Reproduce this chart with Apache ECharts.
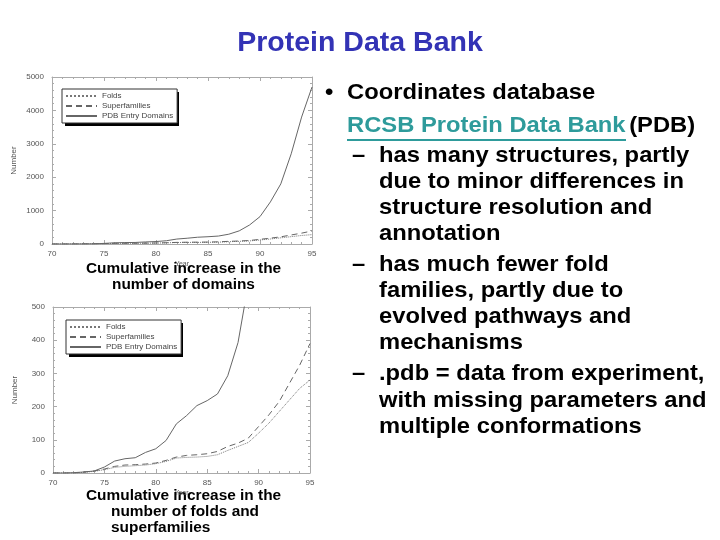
<!DOCTYPE html>
<html>
<head>
<meta charset="utf-8">
<script src="https://cdn.jsdelivr.net/npm/echarts@6/dist/echarts.min.js"></script>
<style>html,body{margin:0;padding:0;background:#fff}#c{width:720px;height:540px}</style>
</head>
<body>
<div id="c"></div>
<script>
var years = [70,71,72,73,74,75,76,77,78,79,80,81,82,83,84,85,86,87,88,89,90,91,92,93,94,95];
var folds = [0,0,0,2,5,10,17,20,22,24,28,35,45,47,48,50,55,68,80,92,120,150,185,220,255,280];
var superfamilies = [0,0,0,3,6,12,20,24,25,27,30,38,48,53,55,58,65,80,90,105,140,175,215,270,325,390];
var domains = [0,0,1,3,6,18,36,43,46,62,73,98,148,173,203,218,238,293,393,570,820,1260,1800,2700,3800,4700];
var seriesNames = ['Folds','Superfamilies','PDB Entry Domains'];
var topYTicks = {min:0, max:5000, interval:1000};
var botYTicks = {min:0, max:500, interval:100};
var xTicks = {min:70, max:95, interval:5};

function pairs(v){ return years.map(function(y,i){ return [y, v[i]]; }); }

var axisGrey = '#aaa';
function xAx(grid, pos, show){
  return {type:'value', gridIndex:grid, position:pos, min:xTicks.min, max:xTicks.max, interval:xTicks.interval,
    axisLine:{show:true, onZero:false, lineStyle:{color:axisGrey, width:1}},
    axisTick:{show:true, inside:true, length:4, lineStyle:{color:axisGrey}},
    minorTick:{show:true, splitNumber:5, length:2, lineStyle:{color:axisGrey}},
    splitLine:{show:false},
    axisLabel:{show:show, margin:6, color:'#555', fontSize:8, fontFamily:'Arial', formatter:function(v){return String(v);}},
    name: show ? 'Year' : '', nameLocation:'middle', nameGap:17,
    nameTextStyle:{color:'#555', fontSize:7, fontFamily:'Arial'}};
}
function yAx(grid, pos, show, t){
  return {type:'value', gridIndex:grid, position:pos, min:t.min, max:t.max, interval:t.interval,
    axisLine:{show:true, onZero:false, lineStyle:{color:axisGrey, width:1}},
    axisTick:{show:true, inside:true, length:4, lineStyle:{color:axisGrey}},
    minorTick:{show:true, splitNumber:5, length:2, lineStyle:{color:axisGrey}},
    splitLine:{show:false},
    axisLabel:{show:show, margin:8, color:'#555', fontSize:8, fontFamily:'Arial', formatter:function(v){return String(v);}},
    name: show ? 'Number' : '', nameLocation:'middle', nameGap:34, nameRotate:90,
    nameTextStyle:{color:'#555', fontSize:8, fontFamily:'Arial'}};
}
var styles = [
  {color:'#777', width:1, type:'dotted'},
  {color:'#666', width:1, type:[6,4]},
  {color:'#666', width:1, type:'solid'}
];
var seriesData = [folds, superfamilies, domains];
var series = [];
[0,1].forEach(function(g){
  seriesNames.forEach(function(n,i){
    series.push({type:'line', name:n, xAxisIndex:g*2, yAxisIndex:g*2, data:pairs(seriesData[i]),
      showSymbol:false, symbol:'none', clip:true, silent:true, animation:false,
      lineStyle:styles[i], itemStyle:{color:styles[i].color}});
  });
});
function leg(left, top){
  return {left:left, top:top, orient:'vertical', data:seriesNames, itemWidth:31, itemHeight:6, itemGap:2,
    padding:[3,4,3,3], backgroundColor:'#fff', borderColor:'#333', borderWidth:1,
    itemStyle:{opacity:0},
    textStyle:{color:'#444', fontSize:8, fontFamily:'Arial'}, selectedMode:false, z:5};
}
var FS = 22, SX = 1.08;
function line(x, y, txt){
  return {type:'text', x:x, y:y-FS*0.58, scaleX:SX, style:{text:txt, fontSize:FS, fontWeight:'bold', fontFamily:'Arial', fill:'#000'}};
}
var bullets = [
  [325, 95, '•'], [347, 95, 'Coordinates database'],
  [352, 158, '–'], [379, 158, 'has many structures, partly'],
  [379, 184, 'due to minor differences in'],
  [379, 210, 'structure resolution and'],
  [379, 236, 'annotation'],
  [352, 267, '–'], [379, 267, 'has much fewer fold'],
  [379, 293, 'families, partly due to'],
  [379, 319, 'evolved pathways and'],
  [379, 345, 'mechanisms'],
  [352, 376, '–'], [379, 376, '.pdb = data from experiment,'],
  [379, 403, 'with missing parameters and'],
  [379, 429, 'multiple conformations']
];
function cap(x, y, txt){
  return {type:'text', x:x, y:y-7.5, scaleX:1.1, style:{text:txt, fontSize:14, fontWeight:'bold', fontFamily:'Arial', fill:'#000'}};
}
var graphics = [
  {type:'text', left:'center', top:29, style:{text:'Protein Data Bank', fontSize:28.5, fontWeight:'bold', fontFamily:'Arial', fill:'#3333B5'}},
  {type:'text', x:347, y:128-FS*0.58, scaleX:SX, style:{text:'{a|RCSB Protein Data Bank} {b|(PDB)}', rich:{
     a:{fontSize:FS, fontWeight:'bold', fontFamily:'Arial', fill:'#2E9B9B', color:'#2E9B9B'},
     b:{fontSize:FS, fontWeight:'bold', fontFamily:'Arial', fill:'#000', color:'#000'}}}},
  {type:'rect', x:347, y:139, shape:{width:279, height:2}, style:{fill:'#2E9B9B'}},
  {type:'rect', x:65, y:92, shape:{width:114, height:34}, style:{fill:'#000'}, z:1},
  {type:'rect', x:69, y:323, shape:{width:114, height:34}, style:{fill:'#000'}, z:1},
  cap(86, 270, 'Cumulative increase in the'),
  cap(112, 286, 'number of domains'),
  cap(86, 497, 'Cumulative increase in the'),
  cap(111, 513, 'number of folds and'),
  cap(111, 529, 'superfamilies')
];
bullets.forEach(function(b){ graphics.push(line(b[0], b[1], b[2])); });

var chart = echarts.init(document.getElementById('c'), null, {renderer:'canvas'});
chart.setOption({
  animation:false,
  backgroundColor:'#fff',
  grid:[
    {left:52, top:77, width:260, height:167},
    {left:53, top:307, width:257, height:166}
  ],
  xAxis:[xAx(0,'bottom',true), xAx(0,'top',false), xAx(1,'bottom',true), xAx(1,'top',false)],
  yAxis:[yAx(0,'left',true,topYTicks), yAx(0,'right',false,topYTicks), yAx(1,'left',true,botYTicks), yAx(1,'right',false,botYTicks)],
  legend:[leg(62,89), leg(66,320)],
  series:series,
  graphic:graphics
});
</script>
</body>
</html>
